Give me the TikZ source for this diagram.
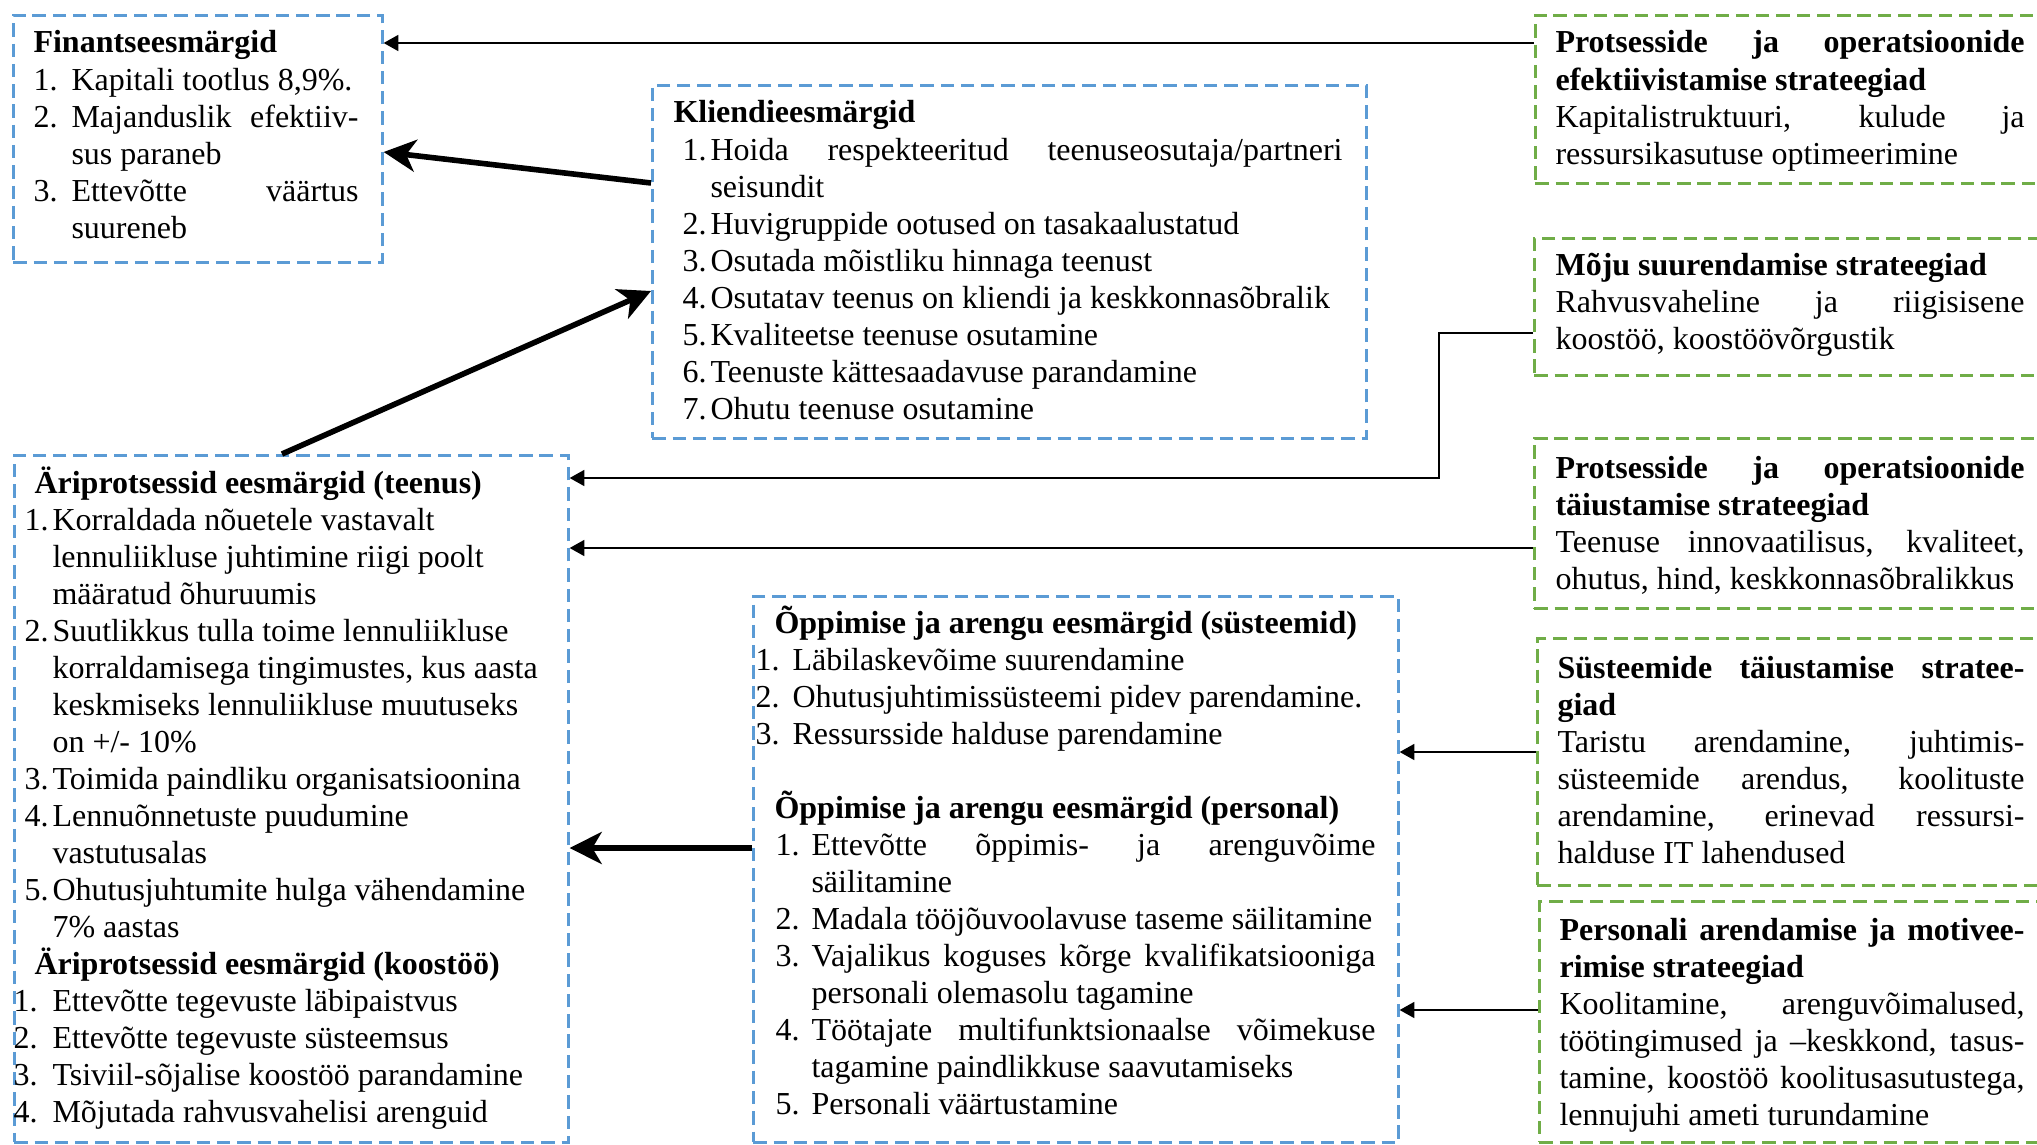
\documentclass[tikz,border=0pt]{standalone}
\usepackage{fontspec}
\setmainfont{Liberation Serif}
\usepackage{tikz}
\usetikzlibrary{arrows.meta, calc}
\definecolor{goalblue}{RGB}{91,155,213}
\definecolor{stratgreen}{RGB}{112,173,71}
\newlength{\pxu}\setlength{\pxu}{0.375pt}
\newlength{\numin}
\newlength{\numw}
\newlength{\fullw}
% list rows: number, continuation, stretched line, title
\newcommand{\setnum}[2]{\global\numin=#1\relax\global\numw=#2\relax}
\newcommand{\nr}[1]{\hspace*{\numin}\makebox[\numw][l]{#1}}
\newcommand{\cont}{\hspace*{\dimexpr\numin+\numw\relax}}
\newcommand{\fullline}[1]{{\spaceskip=0.25em plus 1fil minus 0.05em\relax\hbox to \fullw{#1}}}
\newcommand{\ttl}[2][0pt]{\hspace*{#1}\smash{\textbf{#2}}}

\begin{document}
\begin{tikzpicture}[x=0.375pt, y=-0.375pt,
    goalbox/.style={draw=goalblue, line width=1pt, dash pattern=on 5pt off 2.6pt, anchor=north west, inner sep=0pt},
    stratbox/.style={draw=stratgreen, line width=1pt, dash pattern=on 5pt off 2.6pt, anchor=north west, inner sep=0pt},
    txt/.style={anchor=base west, inner sep=0pt, font=\fontsize{12}{13.88}\selectfont},
    thinarrow/.style={-{Triangle[length=5.5pt,width=6pt]}, line width=0.6pt},
    thickarrow/.style={-{Stealth[length=12pt,width=12pt,inset=3.5pt]}, line width=2.1pt}]
    \useasboundingbox (0,0) rectangle (2037,1145);

    % Goal boxes
    \node[goalbox, minimum width=369\pxu, minimum height=247\pxu] (fin) at (12,14) {};
    \node[goalbox, minimum width=714\pxu, minimum height=353\pxu] (kli) at (651,84) {};
    \node[goalbox, minimum width=554\pxu, minimum height=687\pxu] (ari) at (13,454) {};
    \node[goalbox, minimum width=645\pxu, minimum height=546\pxu] (opp) at (752,595) {};

    % Strategy boxes (cut at the right edge)
    \node[stratbox, minimum width=560\pxu, minimum height=168\pxu] (eff) at (1534,14) {};
    \node[stratbox, minimum width=560\pxu, minimum height=137\pxu] (moju) at (1533,237) {};
    \node[stratbox, minimum width=560\pxu, minimum height=170\pxu] (taius) at (1533,437) {};
    \node[stratbox, minimum width=560\pxu, minimum height=247\pxu] (syst) at (1536,637) {};
    \node[stratbox, minimum width=560\pxu, minimum height=241\pxu] (pers) at (1538,900) {};

    % Goal texts
    \node[txt] (fintxt) at (33,53) {%
        \setnum{0pt}{38\pxu}\setlength{\fullw}{287\pxu}%
        \begin{tabular}[t]{@{}l@{}}
            \ttl{Finantseesmärgid}\\
            \nr{1.}Kapitali tootlus 8,9\%.\\
            \nr{2.}\fullline{Majanduslik efektiiv-}\\
            \cont sus paraneb\\
            \nr{3.}\fullline{Ettevõtte väärtus}\\
            \cont suureneb
        \end{tabular}};

    \node[txt] (klitxt) at (673,123) {%
        \setnum{9\pxu}{28\pxu}\setlength{\fullw}{632\pxu}%
        \begin{tabular}[t]{@{}l@{}}
            \ttl{Kliendieesmärgid}\\
            \nr{1.}\fullline{Hoida respekteeritud teenuseosutaja/partneri}\\
            \cont seisundit\\
            \nr{2.}Huvigruppide ootused on tasakaalustatud\\
            \nr{3.}Osutada mõistliku hinnaga teenust\\
            \nr{4.}Osutatav teenus on kliendi ja keskkonnasõbralik\\
            \nr{5.}Kvaliteetse teenuse osutamine\\
            \nr{6.}Teenuste kättesaadavuse parandamine\\
            \nr{7.}Ohutu teenuse osutamine
        \end{tabular}};

    \node[txt] (aritxt) at (13,493) {%
        \setnum{11\pxu}{28\pxu}%
        \begin{tabular}[t]{@{}l@{}}
            \ttl[21\pxu]{Äriprotsessid eesmärgid (teenus)}\\
            \nr{1.}Korraldada nõuetele vastavalt\\
            \cont lennuliikluse juhtimine riigi poolt\\
            \cont määratud õhuruumis\\
            \nr{2.}Suutlikkus tulla toime lennuliikluse\\
            \cont korraldamisega tingimustes, kus aasta\\
            \cont keskmiseks lennuliikluse muutuseks\\
            \cont on +/- 10\%\\
            \nr{3.}Toimida paindliku organisatsioonina\\
            \nr{4.}Lennuõnnetuste puudumine\\
            \cont vastutusalas\\
            \nr{5.}Ohutusjuhtumite hulga vähendamine\\
            \cont 7\% aastas\\
            \ttl[21\pxu]{Äriprotsessid eesmärgid (koostöö)}\\
            \setnum{0pt}{39\pxu}\nr{1.}Ettevõtte tegevuste läbipaistvus\\
            \nr{2.}Ettevõtte tegevuste süsteemsus\\
            \nr{3.}Tsiviil-sõjalise koostöö parandamine\\
            \nr{4.}Mõjutada rahvusvahelisi arenguid
        \end{tabular}};

    \node[txt] (opptxt) at (755,633) {%
        \setnum{0pt}{37\pxu}\setlength{\fullw}{564\pxu}%
        \begin{tabular}[t]{@{}l@{}}
            \ttl[19\pxu]{Õppimise ja arengu eesmärgid (süsteemid)}\\
            \nr{1.}Läbilaskevõime suurendamine\\
            \nr{2.}Ohutusjuhtimissüsteemi pidev parendamine.\\
            \nr{3.}Ressursside halduse parendamine\\
            \\
            \ttl[19\pxu]{Õppimise ja arengu eesmärgid (personal)}\\
            \setnum{20\pxu}{36\pxu}\nr{1.}\fullline{Ettevõtte õppimis- ja arenguvõime}\\
            \cont säilitamine\\
            \nr{2.}Madala tööjõuvoolavuse taseme säilitamine\\
            \nr{3.}\fullline{Vajalikus koguses kõrge kvalifikatsiooniga}\\
            \cont personali olemasolu tagamine\\
            \nr{4.}\fullline{Töötajate multifunktsionaalse võimekuse}\\
            \cont tagamine paindlikkuse saavutamiseks\\
            \nr{5.}Personali väärtustamine
        \end{tabular}};

    % Strategy texts
    \node[txt] (efftxt) at (1555,53) {%
        \setlength{\fullw}{469\pxu}%
        \begin{tabular}[t]{@{}l@{}}
            \fullline{\textbf{Protsesside ja operatsioonide}}\\
            \textbf{efektiivistamise strateegiad}\\
            \fullline{Kapitalistruktuuri, kulude ja}\\
            ressursikasutuse optimeerimine
        \end{tabular}};
    \node[txt] (mojutxt) at (1555,275) {%
        \setlength{\fullw}{469\pxu}%
        \begin{tabular}[t]{@{}l@{}}
            \textbf{Mõju suurendamise strateegiad}\\
            \fullline{Rahvusvaheline ja riigisisene}\\
            koostöö, koostöövõrgustik
        \end{tabular}};
    \node[txt] (taiustxt) at (1555,478) {%
        \setlength{\fullw}{469\pxu}%
        \begin{tabular}[t]{@{}l@{}}
            \fullline{\textbf{Protsesside ja operatsioonide}}\\
            \textbf{täiustamise strateegiad}\\
            \fullline{Teenuse innovaatilisus, kvaliteet,}\\
            ohutus, hind, keskkonnasõbralikkus
        \end{tabular}};
    \node[txt] (systtxt) at (1557,678) {%
        \setlength{\fullw}{467\pxu}%
        \begin{tabular}[t]{@{}l@{}}
            \fullline{\textbf{Süsteemide täiustamise stratee-}}\\
            \textbf{giad}\\
            \fullline{Taristu arendamine, juhtimis-}\\
            \fullline{süsteemide arendus, koolituste}\\
            \fullline{arendamine, erinevad ressursi-}\\
            halduse IT lahendused
        \end{tabular}};
    \node[txt] (perstxt) at (1559,940) {%
        \setlength{\fullw}{465\pxu}%
        \begin{tabular}[t]{@{}l@{}}
            \fullline{\textbf{Personali arendamise ja motivee-}}\\
            \textbf{rimise strateegiad}\\
            \fullline{Koolitamine, arenguvõimalused,}\\
            \fullline{töötingimused ja –keskkond, tasus-}\\
            \fullline{tamine, koostöö koolitusasutustega,}\\
            lennujuhi ameti turundamine
        \end{tabular}};

    % Connectors
    \coordinate (mojubend) at (1439,478);
    \draw[thinarrow] (eff.west |- 0,43) -- (fin.east |- 0,43);
    \draw[thickarrow] (kli.west |- 0,183) -- (fin.east |- 0,152);
    \draw[thickarrow] (ari.north -| 282,0) -- (kli.west |- 0,291);
    \draw[thinarrow] (moju.west |- 0,333) -| (mojubend) -- (ari.east |- mojubend);
    \draw[thinarrow] (taius.west |- 0,548) -- (ari.east |- 0,548);
    \draw[thickarrow] (opp.west |- 0,848) -- (ari.east |- 0,848);
    \draw[thinarrow] (syst.west |- 0,752) -- (opp.east |- 0,752);
    \draw[thinarrow] (pers.west |- 0,1010) -- (opp.east |- 0,1010);
\end{tikzpicture}
\end{document}
